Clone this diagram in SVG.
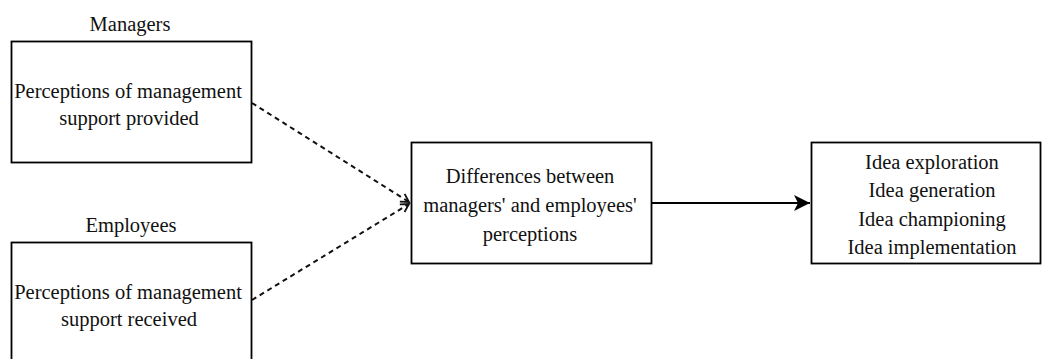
<svg xmlns="http://www.w3.org/2000/svg" width="1042" height="359" viewBox="0 0 1042 359">
<style>
.box{fill:#fff;stroke:#000;stroke-width:1.8}
.t{font-family:"Liberation Serif","Times New Roman",serif;font-size:20.5px;fill:#111;text-anchor:middle}
.dash{fill:none;stroke:#111;stroke-width:2;stroke-dasharray:5 4}
.solid{fill:none;stroke:#000;stroke-width:2}
</style>
<defs>
<marker id="open" markerWidth="12" markerHeight="12" refX="9" refY="6" orient="auto" markerUnits="userSpaceOnUse">
<path d="M1,1.5 L9,6 L1,10.5" fill="none" stroke="#111" stroke-width="1.8"/>
</marker>
<marker id="fill" markerWidth="18" markerHeight="18" refX="16" refY="9" orient="auto" markerUnits="userSpaceOnUse">
<path d="M0,1 L16,9 L0,17 L4,9 Z" fill="#000"/>
</marker>
</defs>
<rect width="1042" height="359" fill="#fff"/>
<g id="connectors">
<line class="dash" x1="252" y1="103" x2="409" y2="202" marker-end="url(#open)"/>
<line class="dash" x1="252" y1="300" x2="409" y2="204" marker-end="url(#open)"/>
<line class="solid" x1="652" y1="203" x2="810" y2="203" marker-end="url(#fill)"/>
</g>
<g id="managers">
<text class="t" x="130" y="31">Managers</text>
<rect class="box" x="11.5" y="41.5" width="240" height="121"/>
<text class="t" x="128" y="98">Perceptions of management</text>
<text class="t" x="129" y="125">support provided</text>
</g>
<g id="employees">
<text class="t" x="131" y="232">Employees</text>
<rect class="box" x="11.5" y="242.5" width="240" height="125"/>
<text class="t" x="128" y="299">Perceptions of management</text>
<text class="t" x="129" y="326">support received</text>
</g>
<g id="differences">
<rect class="box" x="411.5" y="142.5" width="240" height="121"/>
<text class="t" x="530" y="183">Differences between</text>
<text class="t" x="530" y="212">managers' and employees'</text>
<text class="t" x="530" y="241">perceptions</text>
</g>
<g id="outcomes">
<rect class="box" x="811.5" y="142.5" width="229" height="121"/>
<text class="t" x="932" y="169">Idea exploration</text>
<text class="t" x="932" y="197">Idea generation</text>
<text class="t" x="932" y="226">Idea championing</text>
<text class="t" x="932" y="254">Idea implementation</text>
</g>
</svg>
